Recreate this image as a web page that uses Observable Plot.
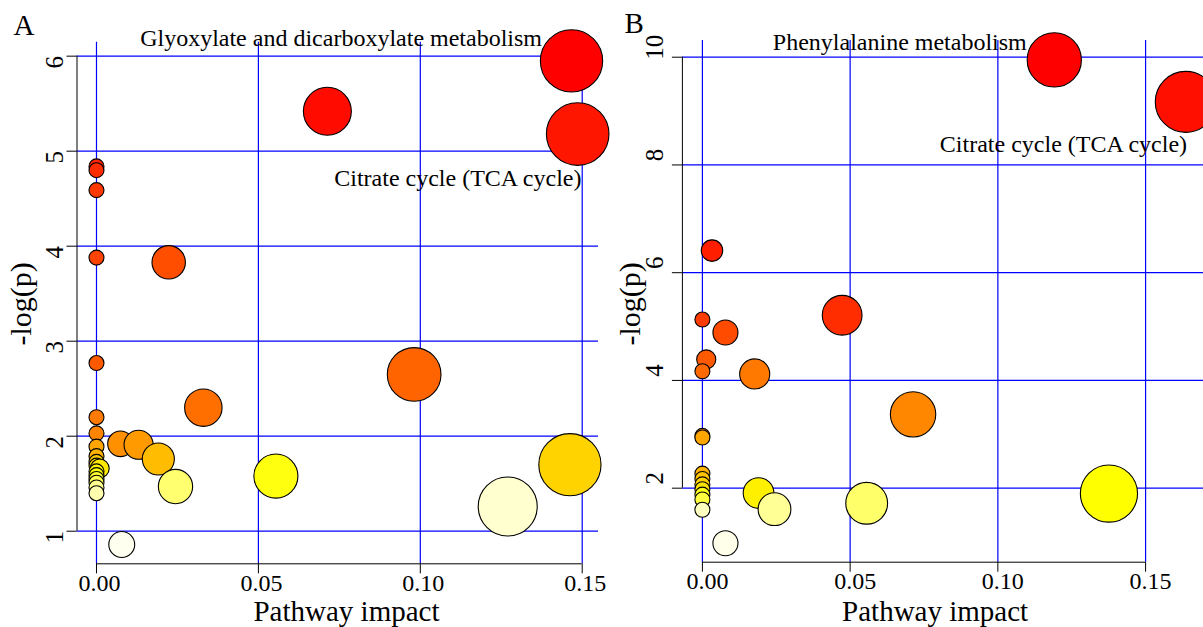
<!DOCTYPE html>
<html><head><meta charset="utf-8">
<script src="https://cdn.jsdelivr.net/npm/d3@7"></script>
<script src="https://cdn.jsdelivr.net/npm/@observablehq/plot@0.6"></script>
<style>
html,body{margin:0;padding:0;background:#fff;}
#wrap{position:relative;width:1203px;height:627px;overflow:hidden;}
</style></head><body><div id="wrap"></div>
<script>
// ---- Data ----
const xTicks = [0, 0.05, 0.10, 0.15];
const yTicksA = [1, 2, 3, 4, 5, 6];
const yTicksB = [2, 4, 6, 8, 10];
const xTitle = "Pathway impact";
const yTitle = "-log(p)";

// Panel A: pathway impact and -log(p)
const impactA = [0.1467, 0.1486, 0.0713, 0.0223, 0, 0, 0, 0, 0, 0.0981, 0.0330, 0, 0, 0,
  0.0074, 0.0130, 0.0191, 0.0244, 0.0554, 0.1270, 0.1462, 0.0078,
  0, 0, 0, 0.001, 0, 0, 0, 0, 0, 0];
const logpA = [5.95, 5.18, 5.42, 3.83, 4.84, 4.80, 4.59, 3.88, 2.77, 2.65, 2.30, 2.20, 2.03, 1.89,
  1.92, 1.91, 1.76, 1.47, 1.58, 1.26, 1.70, 0.86,
  1.79, 1.73, 1.69, 1.66, 1.63, 1.59, 1.55, 1.51, 1.46, 1.40];
const namesA = ["Glyoxylate and dicarboxylate metabolism", "Citrate cycle (TCA cycle)"];

// Panel B
const impactB = [0.1191, 0.1636, 0.00325, 0.0473, 0, 0.0078, 0.0013, 0, 0.0177, 0.0713,
  0, 0, 0, 0, 0, 0, 0, 0, 0, 0.0190, 0.0244, 0.0556, 0.1376, 0.0078];
const logpB = [9.95, 9.17, 6.41, 5.21, 5.13, 4.89, 4.39, 4.17, 4.12, 3.37,
  2.97, 2.94, 2.27, 2.17, 2.07, 1.98, 1.88, 1.79, 1.60, 1.91, 1.61, 1.72, 1.90, 0.977];
const namesB = ["Phenylalanine metabolism", "Citrate cycle (TCA cycle)"];

// ---- helpers ----
// R heat.colors(n)
function heatColors(n) {
  const k = Math.floor(n / 4), j = n - k, out = [];
  for (let i = 0; i < j; i++) {
    const h = j > 1 ? i / (j - 1) : 0;
    out.push(d3.rgb(255, Math.round(255 * h), 0).formatHex());
  }
  const s0 = 1 - 1 / (2 * k), s1 = 1 / (2 * k);
  for (let i = 0; i < k; i++) {
    const s = k > 1 ? s0 + (s1 - s0) * i / (k - 1) : s0;
    out.push(d3.rgb(255, 255, Math.round(255 * (1 - s))).formatHex());
  }
  return out;
}
function makePoints(impact, logp) {
  const pts = impact.map((x, i) => ({impact: x, logp: logp[i], idx: i}));
  pts.sort((a, b) => b.logp - a.logp);
  const cols = heatColors(pts.length);
  pts.forEach((p, r) => p.color = cols[r]);
  return pts;
}

const FONT = "'Liberation Serif', 'Times New Roman', serif";
const GRID = "#0000ff";

function panel(c) {
  const pts = makePoints(c.impact, c.logp);
  const yT = c.yTicks;
  const x0 = c.xDomain[0], y0 = c.yDomain[0];
  const marks = [
    Plot.gridX(xTicks, {x: d => d, stroke: GRID, strokeOpacity: 1, strokeWidth: 1.2}),
    Plot.gridY(yT, {y: d => d, stroke: GRID, strokeOpacity: 1, strokeWidth: 1.2}),
    // tick marks (outside, 10px)
    Plot.ruleX(xTicks, {x: d => d, y1: y0, y2: y0, insetBottom: -10, stroke: "black", strokeWidth: 1}),
    Plot.ruleY(yT, {y: d => d, x1: x0, x2: x0, insetLeft: -10, stroke: "black", strokeWidth: 1}),
    // axis lines (from first to last tick)
    Plot.ruleX([x0], {x: d => d, y1: yT[0], y2: yT[yT.length - 1], stroke: "black", strokeWidth: 1}),
    Plot.ruleY([y0], {y: d => d, x1: xTicks[0], x2: xTicks[xTicks.length - 1], stroke: "black", strokeWidth: 1}),
    Plot.text(xTicks, {x: d => d, text: d3.format(".2f"), frameAnchor: "bottom", lineAnchor: "bottom",
      dx: c.xtDx, dy: c.xtDy, fontSize: 24, fontFamily: FONT, fill: "black"}),
    Plot.text(yT, {y: d => d, text: d => String(d), frameAnchor: "left", rotate: -90, lineAnchor: "bottom",
      textAnchor: "middle", dx: c.ytDx, dy: c.ytDy, fontSize: 25, fontFamily: FONT, fill: "black"}),
    Plot.text([xTitle], {text: d => d, frameAnchor: "bottom", lineAnchor: "bottom", dx: c.xlDx, dy: c.xlDy,
      fontSize: 29, fontFamily: FONT, fill: "black"}),
    Plot.text([yTitle], {text: d => d, frameAnchor: "left", rotate: -90, lineAnchor: "bottom", textAnchor: "middle",
      dx: c.ylDx, dy: c.ylDy, fontSize: 30, fontFamily: FONT, fill: "black"}),
    Plot.text([c.letter], {text: d => d, frameAnchor: "top-left", textAnchor: "start", lineAnchor: "bottom",
      dx: c.lDx, dy: c.lDy, fontSize: 29, fontFamily: FONT, fill: "black"}),
    Plot.dot(pts, {x: "impact", y: "logp", r: "impact", fill: "color", stroke: "black", strokeWidth: 1.1, sort: null})
  ];
  c.names.forEach((name, i) => {
    const p = pts.find(q => q.idx === i);
    marks.push(Plot.text([p], {x: "impact", y: "logp", text: () => name, textAnchor: "end", lineAnchor: "bottom",
      dx: c.labelOffsets[i][0], dy: c.labelOffsets[i][1], fontSize: 24, fontFamily: FONT, fill: "black"}));
  });
  return Plot.plot({
    width: c.width, height: 627,
    marginLeft: c.mL, marginRight: c.mR, marginTop: c.mT, marginBottom: c.mB,
    x: {domain: c.xDomain, axis: null},
    y: {domain: c.yDomain, axis: null},
    r: {type: "sqrt", domain: [0, d3.max(c.impact)], range: c.rRange},
    color: {type: "identity"},
    style: {fontFamily: FONT, background: "transparent", overflow: "visible", color: "black",
      position: "absolute", left: c.left + "px", top: "0px", maxWidth: "none"},
    marks
  });
}

const wrap = document.getElementById("wrap");
const B = panel({
  impact: impactB, logp: logpB, names: namesB, yTicks: yTicksB, letter: "B",
  width: 603, left: 600, mL: 81.9, mR: 0, mT: 40, mB: 65.3,
  xDomain: [-0.00677, 0.1696], yDomain: [0.626, 10.31], rRange: [7.5, 30.5],
  xtDx: 5, xtDy: 27, ytDx: -19, ytDy: -10, xlDx: -7.85, xlDy: 58.6, ylDx: -42.9, ylDy: 2.5,
  lDx: -57.9, lDy: -7.3, labelOffsets: [[-27.5, -9.4], [1.3, 50.3]]
});
const A = panel({
  impact: impactA, logp: logpA, names: namesA, yTicks: yTicksA, letter: "A",
  width: 600, left: 0, mL: 76.5, mR: 2, mT: 41.7, mB: 63.7,
  xDomain: [-0.00602, 0.15503], yDomain: [0.657, 6.147], rRange: [7.5, 31.3],
  xtDx: 3, xtDy: 27.5, ytDx: -14.5, ytDy: 6, xlDx: 8.75, xlDy: 57, ylDx: -45.8, ylDy: 0.8,
  lDx: -63.5, lDy: -7.7, labelOffsets: [[-29.5, -14.8], [3.8, 52.4]]
});
wrap.appendChild(B);
wrap.appendChild(A);
</script></body></html>
